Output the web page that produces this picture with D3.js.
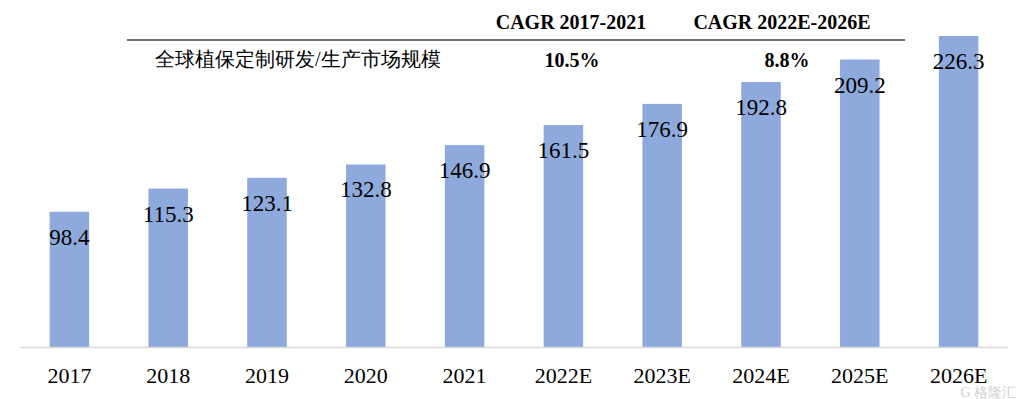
<!DOCTYPE html>
<html>
<head>
<meta charset="utf-8">
<script src="https://cdn.jsdelivr.net/npm/d3@7"></script>
<style>
body { margin: 0; background: #fff; }
svg text { font-family: "Liberation Serif", "Times New Roman", serif; }
</style>
</head>
<body>
<svg id="chart" width="1024" height="399"></svg>
<script>
// 全球植保定制研发/生产市场规模
var years = ['2017', '2018', '2019', '2020', '2021', '2022E', '2023E', '2024E', '2025E', '2026E'];
var values = [98.4, 115.3, 123.1, 132.8, 146.9, 161.5, 176.9, 192.8, 209.2, 226.3];
var cagrTitles = ['CAGR 2017-2021', 'CAGR 2022E-2026E'];
var cagrValues = ['10.5%', '8.8%'];
var rowLabel = '全球植保定制研发/生产市场规模';

var svg = d3.select('#chart');

var x = d3.scaleBand()
	.domain(years)
	.range([20, 1008])
	.paddingInner(0.6)
	.paddingOuter(0.3);

var y = d3.scaleLinear()
	.domain([0, 226.3])
	.range([347, 36]);

// bars
svg.append('g')
	.selectAll('rect')
	.data(values)
	.enter()
	.append('rect')
	.attr('x', function(d, i){ return x(years[i]); })
	.attr('y', function(d){ return y(d); })
	.attr('width', x.bandwidth())
	.attr('height', function(d){ return y(0) - y(d); })
	.attr('fill', '#8eaadc');

// value labels
svg.append('g')
	.selectAll('text')
	.data(values)
	.enter()
	.append('text')
	.attr('x', function(d, i){ return x(years[i]) + x.bandwidth() / 2; })
	.attr('y', function(d){ return y(d) + 33; })
	.attr('text-anchor', 'middle')
	.attr('font-size', '23px')
	.attr('fill', '#000')
	.text(function(d){ return d.toFixed(1); });

// x axis
var xAxis = svg.append('g')
	.attr('transform', 'translate(0,347)')
	.call(d3.axisBottom(x).tickSize(0).tickPadding(20));
xAxis.select('.domain').attr('stroke', '#d9d9d9').attr('stroke-width', 1.5);
xAxis.selectAll('text')
	.attr('font-family', '"Liberation Serif", "Times New Roman", serif')
	.attr('font-size', '22px')
	.attr('fill', '#000');

// CAGR table
var cagrX = [571, 782];
svg.append('g')
	.selectAll('text')
	.data(cagrTitles)
	.enter()
	.append('text')
	.attr('x', function(d, i){ return cagrX[i]; })
	.attr('y', 29)
	.attr('text-anchor', 'middle')
	.attr('font-size', '20px')
	.attr('font-weight', 'bold')
	.text(function(d){ return d; });

svg.append('line')
	.attr('x1', 127).attr('x2', 905)
	.attr('y1', 40).attr('y2', 40)
	.attr('stroke', '#404040')
	.attr('stroke-width', 1.5);

svg.append('text')
	.attr('x', 155)
	.attr('y', 66)
	.attr('font-family', '"Noto Sans CJK SC", sans-serif')
	.attr('font-size', '20px')
	.attr('fill', '#000')
	.text(rowLabel);

svg.append('g')
	.selectAll('text')
	.data(cagrValues)
	.enter()
	.append('text')
	.attr('x', function(d, i){ return [572, 787][i]; })
	.attr('y', 67)
	.attr('text-anchor', 'middle')
	.attr('font-size', '20px')
	.attr('font-weight', 'bold')
	.text(function(d){ return d; });

// watermark
svg.append('text')
	.attr('x', 1016)
	.attr('y', 397)
	.attr('text-anchor', 'end')
	.attr('font-family', '"Noto Sans CJK SC", sans-serif')
	.attr('font-size', '14px')
	.attr('fill', '#c8c8c8')
	.attr('opacity', 0.8)
	.text('G 格隆汇');
</script>
</body>
</html>
